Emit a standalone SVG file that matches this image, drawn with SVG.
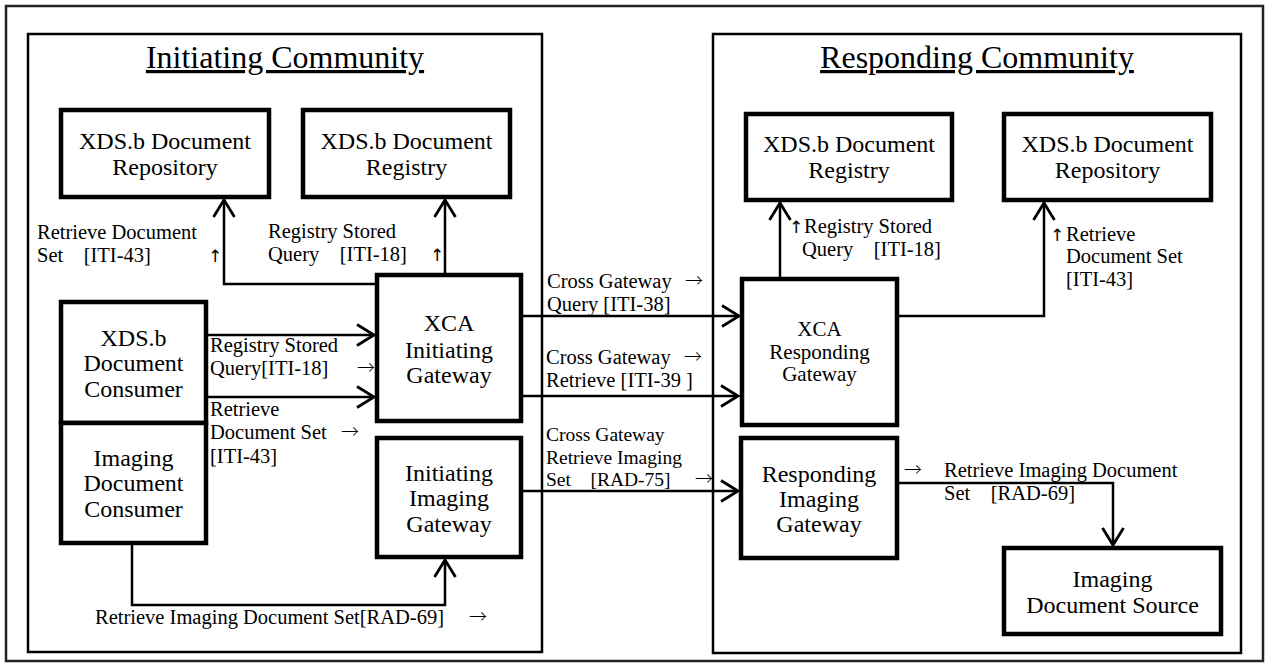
<svg xmlns="http://www.w3.org/2000/svg" width="1268" height="664" viewBox="0 0 1268 664">
<defs>
<marker id="arr" viewBox="0 0 20 22" markerWidth="20" markerHeight="22" refX="18" refY="11" orient="auto" markerUnits="userSpaceOnUse" overflow="visible">
<path d="M1,0.5 L18,11 L1,21.5" fill="none" stroke="#000" stroke-width="2.8"/>
</marker>
<style>
text{font-family:'Liberation Serif','Noto Sans CJK JP',serif;fill:#000}
.title{font-size:32px;text-anchor:middle;text-decoration:underline}
.node rect{fill:#fff;stroke:#000;stroke-width:4.5}
.node text{font-size:24px;text-anchor:middle}
.lbl{font-size:20.5px}
.tight{font-size:19.5px}
.ar{font-family:'Noto Sans CJK JP',sans-serif;font-size:18px;font-weight:300}
.up{font-family:'DejaVu Sans',sans-serif;font-size:17px;font-weight:normal}
.comm{fill:none;stroke:#000;stroke-width:2.5}
.conn path{fill:none;stroke:#000;stroke-width:2.5}
</style>
</defs>
<rect width="1268" height="664" fill="#fff"/>
<rect x="6" y="6" width="1257" height="655" fill="none" stroke="#222" stroke-width="2.5"/>

<g id="initiating-community">
<rect class="comm" x="28" y="34" width="514" height="618"/>
<text class="title" x="285" y="68">Initiating Community</text>
</g>
<g id="responding-community">
<rect class="comm" x="713" y="34" width="528" height="619"/>
<text class="title" x="977" y="68">Responding Community</text>
</g>

<g id="connectors" class="conn">
<path d="M377,284 H224 V200" marker-end="url(#arr)"/>
<path d="M445,275 V200" marker-end="url(#arr)"/>
<path d="M206,335 H374" marker-end="url(#arr)"/>
<path d="M206,397 H374" marker-end="url(#arr)"/>
<path d="M132,543 V605 H445 V560" marker-end="url(#arr)"/>
<path d="M521,316 H739" marker-end="url(#arr)"/>
<path d="M521,396 H738" marker-end="url(#arr)"/>
<path d="M518,491 H738" marker-end="url(#arr)"/>
<path d="M780,279 V203" marker-end="url(#arr)"/>
<path d="M897,316 H1044 V203" marker-end="url(#arr)"/>
<path d="M897,483 H1113 V545" marker-end="url(#arr)"/>
</g>

<g id="labels">
<text class="lbl" x="37" y="239">Retrieve Document</text>
<text class="lbl" x="37" y="262">Set　[ITI-43]</text>
<text class="up" x="208" y="262">↑</text>
<text class="lbl" x="268" y="238">Registry Stored</text>
<text class="lbl" x="268" y="261">Query　[ITI-18]</text>
<text class="up" x="430" y="261">↑</text>
<text class="lbl" x="210" y="352">Registry Stored</text>
<text class="lbl" x="210" y="375">Query[ITI-18]</text>
<text class="ar" x="357" y="374">→</text>
<text class="lbl" x="210" y="416">Retrieve</text>
<text class="lbl" x="210" y="439">Document Set</text>
<text class="ar" x="341" y="438">→</text>
<text class="lbl" x="210" y="463">[ITI-43]</text>
<text class="lbl" x="95" y="624">Retrieve Imaging Document Set[RAD-69]</text>
<text class="ar" x="469" y="623">→</text>
<text class="lbl" x="547" y="288">Cross Gateway</text>
<text class="ar" x="685" y="287">→</text>
<text class="lbl" x="547" y="311">Query [ITI-38]</text>
<text class="lbl" x="546" y="364">Cross Gateway</text>
<text class="ar" x="684" y="363">→</text>
<text class="lbl" x="546" y="387">Retrieve [ITI-39 ]</text>
<text class="tight" x="546" y="441">Cross Gateway</text>
<text class="tight" x="546" y="463.5">Retrieve Imaging</text>
<text class="tight" x="546" y="486">Set　[RAD-75]</text>
<text class="ar" x="695" y="485">→</text>
<text class="up" x="789" y="233">↑</text>
<text class="lbl" x="804" y="233">Registry Stored</text>
<text class="lbl" x="802" y="256">Query　[ITI-18]</text>
<text class="up" x="1050" y="241">↑</text>
<text class="lbl" x="1066" y="241">Retrieve</text>
<text class="lbl" x="1066" y="263">Document Set</text>
<text class="lbl" x="1066" y="286">[ITI-43]</text>
<text class="ar" x="904" y="476">→</text>
<text class="lbl" x="944" y="477">Retrieve Imaging Document</text>
<text class="lbl" x="944" y="500">Set　[RAD-69]</text>
</g>

<g id="init-repository" class="node">
<rect x="61" y="110" width="208" height="87"/>
<text x="165" y="149">XDS.b Document</text>
<text x="165" y="175">Repository</text>
</g>
<g id="init-registry" class="node">
<rect x="303" y="110" width="207" height="87"/>
<text x="406.5" y="149">XDS.b Document</text>
<text x="406.5" y="175">Registry</text>
</g>
<g id="xds-consumer" class="node">
<rect x="61" y="302" width="145" height="121"/>
<text x="133.5" y="346">XDS.b</text>
<text x="133.5" y="371">Document</text>
<text x="133.5" y="397">Consumer</text>
</g>
<g id="imaging-consumer" class="node">
<rect x="61" y="423" width="145" height="120"/>
<text x="133.5" y="466">Imaging</text>
<text x="133.5" y="491">Document</text>
<text x="133.5" y="517">Consumer</text>
</g>
<g id="xca-init-gateway" class="node">
<rect x="377" y="275" width="144" height="146"/>
<text x="449" y="331">XCA</text>
<text x="449" y="357.5">Initiating</text>
<text x="449" y="383">Gateway</text>
</g>
<g id="init-imaging-gateway" class="node">
<rect x="377" y="438" width="144" height="119"/>
<text x="449" y="481">Initiating</text>
<text x="449" y="506">Imaging</text>
<text x="449" y="531.5">Gateway</text>
</g>
<g id="resp-registry" class="node">
<rect x="746" y="114" width="206" height="86"/>
<text x="849" y="151.5">XDS.b Document</text>
<text x="849" y="178">Registry</text>
</g>
<g id="resp-repository" class="node">
<rect x="1004" y="114" width="207" height="86"/>
<text x="1107.5" y="151.5">XDS.b Document</text>
<text x="1107.5" y="178">Repository</text>
</g>
<g id="xca-resp-gateway" class="node">
<rect x="742" y="279" width="155" height="146"/>
<text x="819.5" y="336" style="font-size:21px">XCA</text>
<text x="819.5" y="359" style="font-size:21px">Responding</text>
<text x="819.5" y="381" style="font-size:21px">Gateway</text>
</g>
<g id="resp-imaging-gateway" class="node">
<rect x="741" y="438" width="156" height="120"/>
<text x="819" y="481.5">Responding</text>
<text x="819" y="506.5">Imaging</text>
<text x="819" y="531.5">Gateway</text>
</g>
<g id="imaging-source" class="node">
<rect x="1004" y="548" width="217" height="86"/>
<text x="1112.5" y="587">Imaging</text>
<text x="1112.5" y="612.5">Document Source</text>
</g>
</svg>
